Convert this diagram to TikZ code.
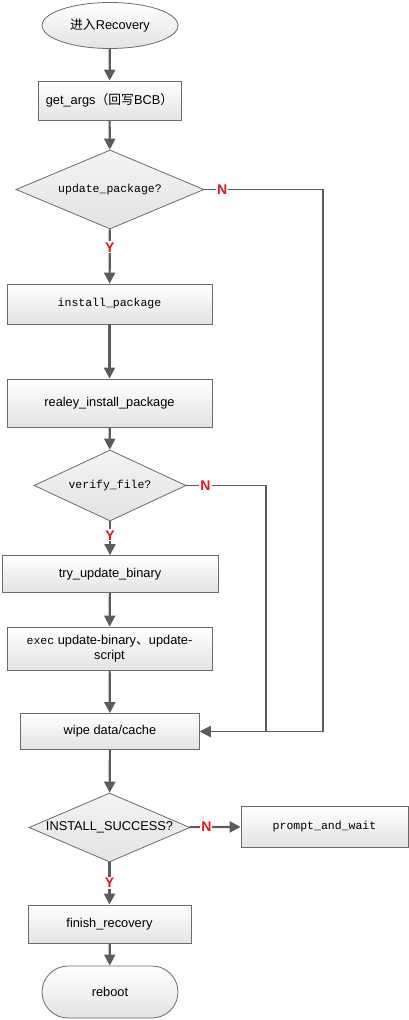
\documentclass[tikz,border=0pt]{standalone}
\usepackage{fontspec}
\setmainfont{Liberation Sans}
\setmonofont{Liberation Mono}
\newfontfamily\cjk{Noto Sans CJK SC}
\usepackage{tikz}
\usetikzlibrary{arrows.meta,shapes.geometric}

\begin{document}
\begin{tikzpicture}[x=1pt,y=-1pt,
  >={Triangle[length=11pt,width=11pt]},
  every node/.style={font=\fontsize{12.8}{15.5}\selectfont},
  box/.style={draw=cborder,line width=0.8pt,top color=white,bottom color=cfill,
    shape=rectangle,inner sep=2pt},
  dia/.style={draw=cborder,line width=0.8pt,top color=white!60!cfill,bottom color=cfill,
    shape=diamond,inner sep=0pt},
  mono/.style={font=\fontsize{11.5}{14}\ttfamily},
  flow/.style={draw=cline,line width=2.2pt,->},
  back/.style={draw=cline,line width=1.6pt,->},
  yn/.style={text=cyn,fill=white,inner sep=1pt,font=\fontsize{14}{14}\bfseries}]
%
\useasboundingbox (0,0) rectangle (409,1020);
%
\definecolor{cborder}{rgb}{0.42,0.42,0.42}
\definecolor{cfill}{rgb}{0.89,0.89,0.89}
\definecolor{cline}{rgb}{0.36,0.36,0.36}
\definecolor{cyn}{rgb}{0.90,0.08,0.12}
%
\node[box,shape=ellipse,minimum width=136,minimum height=46] (start) at (110,25.5) {{\cjk 进入}Recovery};
\node[box,minimum width=143,minimum height=39] (getargs) at (109.5,100.5) {get\_args{\cjk （回写}BCB{\cjk ）}};
\node[dia,mono,shape aspect=2.38,minimum width=188,minimum height=79] (upd) at (110,189.5) {update\_package?};
\node[box,mono,minimum width=205,minimum height=40] (inst) at (109.5,304) {install\_package};
\node[box,minimum width=205,minimum height=48] (realey) at (109.5,403) {realey\_install\_package};
\node[dia,mono,shape aspect=2.14,minimum width=152,minimum height=71] (verify) at (110,485.5) {verify\_file?};
\node[box,minimum width=216,minimum height=37] (try) at (110,574) {try\_update\_binary};
\node[box,minimum width=205,minimum height=43,align=center] (exec) at (109.5,648.5)
  {{\fontsize{11.5}{14}\ttfamily exec} update-binary{\cjk 、}update-\\script};
\node[box,minimum width=179,minimum height=36] (wipe) at (110,731.5) {wipe data/cache};
\node[dia,shape aspect=2.33,minimum width=161,minimum height=69] (instok) at (109.5,827.5) {INSTALL\_SUCCESS?};
\node[box,mono,minimum width=167,minimum height=41] (prompt) at (324.5,826.5) {prompt\_and\_wait};
\node[box,minimum width=163,minimum height=38] (finish) at (109.5,924) {finish\_recovery};
\node[box,rounded corners=26pt,minimum width=136,minimum height=52] (reboot) at (110,992) {reboot};
%
\coordinate (c1) at (323,189.5);
\coordinate (c2) at (266,485.5);
%
\draw[flow] (start) -- (getargs);
\draw[flow] (getargs) -- (upd);
\draw[flow] (upd) -- node[yn,pos=0.33] {Y} (inst);
\draw[flow] (inst) -- (realey);
\draw[flow] (realey) -- (verify);
\draw[flow] (verify) -- node[yn,pos=0.41] {Y} (try);
\draw[flow] (try) -- (exec);
\draw[flow] (exec) -- (wipe);
\draw[flow] (wipe) -- (instok);
\draw[flow] (instok) -- node[yn,pos=0.49] {Y} (finish);
\draw[flow] (finish) -- (reboot);
\draw[flow] (instok) -- node[yn,pos=0.33] {N} (prompt);
\draw[back] (upd.east) -- node[yn,pos=0.15] {N} (c1) |- (wipe.east);
\draw[back] (verify.east) -- node[yn,pos=0.24] {N} (c2) |- (wipe.east);
%
\end{tikzpicture}
\end{document}
